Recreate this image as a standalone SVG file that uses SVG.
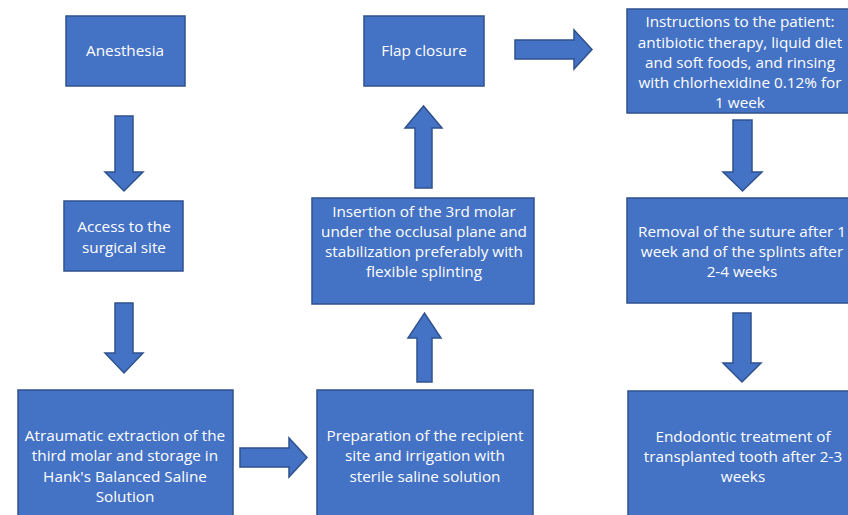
<svg xmlns="http://www.w3.org/2000/svg" width="848" height="515" viewBox="0 0 848 515">
<style>
.box{fill:#4472C4;stroke:#2F528F;stroke-width:1.5}
.arr{fill:#4472C4;stroke:#2F528F;stroke-width:1.5;stroke-linejoin:miter}
text{font-family:"Open Sans","Liberation Sans",sans-serif;font-size:15.3px;fill:#ffffff;text-anchor:middle}
</style>
<rect width="848" height="515" fill="#ffffff"/>
<g id="connectors">
<path class="arr" d="M115,116 H133 V172 H143 L124,191 L105,172 H115 Z"/>
<path class="arr" d="M115,303 H133 V353 H143 L124,373 L105,353 H115 Z"/>
<path class="arr" d="M240,448 H289 V438 L307,457.5 L289,477 V467 H240 Z"/>
<path class="arr" d="M417,382 H432 V338 H441 L424.5,313 L408,338 H417 Z"/>
<path class="arr" d="M415,188 H432 V128 H442 L423.5,106 L405,128 H415 Z"/>
<path class="arr" d="M515,40 H574 V30 L592,49.5 L574,69 V59 H515 Z"/>
<path class="arr" d="M733,120 H752 V172 H762 L742.5,191 L723,172 H733 Z"/>
<path class="arr" d="M733,313 H751 V363 H761 L742,382 L723,363 H733 Z"/>
</g>
<g id="anesthesia"><rect class="box" x="66" y="16" width="119" height="70"/><text x="125" y="56">Anesthesia</text></g>
<g id="access"><rect class="box" x="64" y="201" width="119" height="70"/><text x="124" y="232">Access to the</text><text x="124" y="253">surgical site</text></g>
<g id="extraction"><rect class="box" x="18" y="390" width="215" height="130"/><text x="125" y="441">Atraumatic extraction of the</text><text x="125" y="461">third molar and storage in</text><text x="125" y="481.5">Hank's Balanced Saline</text><text x="125" y="502">Solution</text></g>
<g id="preparation"><rect class="box" x="317" y="390" width="216" height="130"/><text x="425" y="441">Preparation of the recipient</text><text x="425" y="461">site and irrigation with</text><text x="425" y="481.5">sterile saline solution</text></g>
<g id="insertion"><rect class="box" x="312" y="198" width="222" height="106"/><text x="424" y="217">Insertion of the 3rd molar</text><text x="424" y="237">under the occlusal plane and</text><text x="424" y="257">stabilization preferably with</text><text x="424" y="277">flexible splinting</text></g>
<g id="flap"><rect class="box" x="364" y="16" width="120" height="70"/><text x="424" y="56">Flap closure</text></g>
<g id="instructions"><rect class="box" x="627" y="9" width="225" height="104"/><text x="740" y="27">Instructions to the patient:</text><text x="740" y="47.5">antibiotic therapy, liquid diet</text><text x="740" y="68">and soft foods, and rinsing</text><text x="740" y="88">with chlorhexidine 0.12% for</text><text x="740" y="108">1 week</text></g>
<g id="removal"><rect class="box" x="627" y="198" width="225" height="105"/><text x="742" y="237">Removal of the suture after 1</text><text x="742" y="257">week and of the splints after</text><text x="742" y="277">2-4 weeks</text></g>
<g id="endodontic"><rect class="box" x="628" y="391" width="224" height="130"/><text x="743" y="442">Endodontic treatment of</text><text x="743" y="462">transplanted tooth after 2-3</text><text x="743" y="482">weeks</text></g>
</svg>
